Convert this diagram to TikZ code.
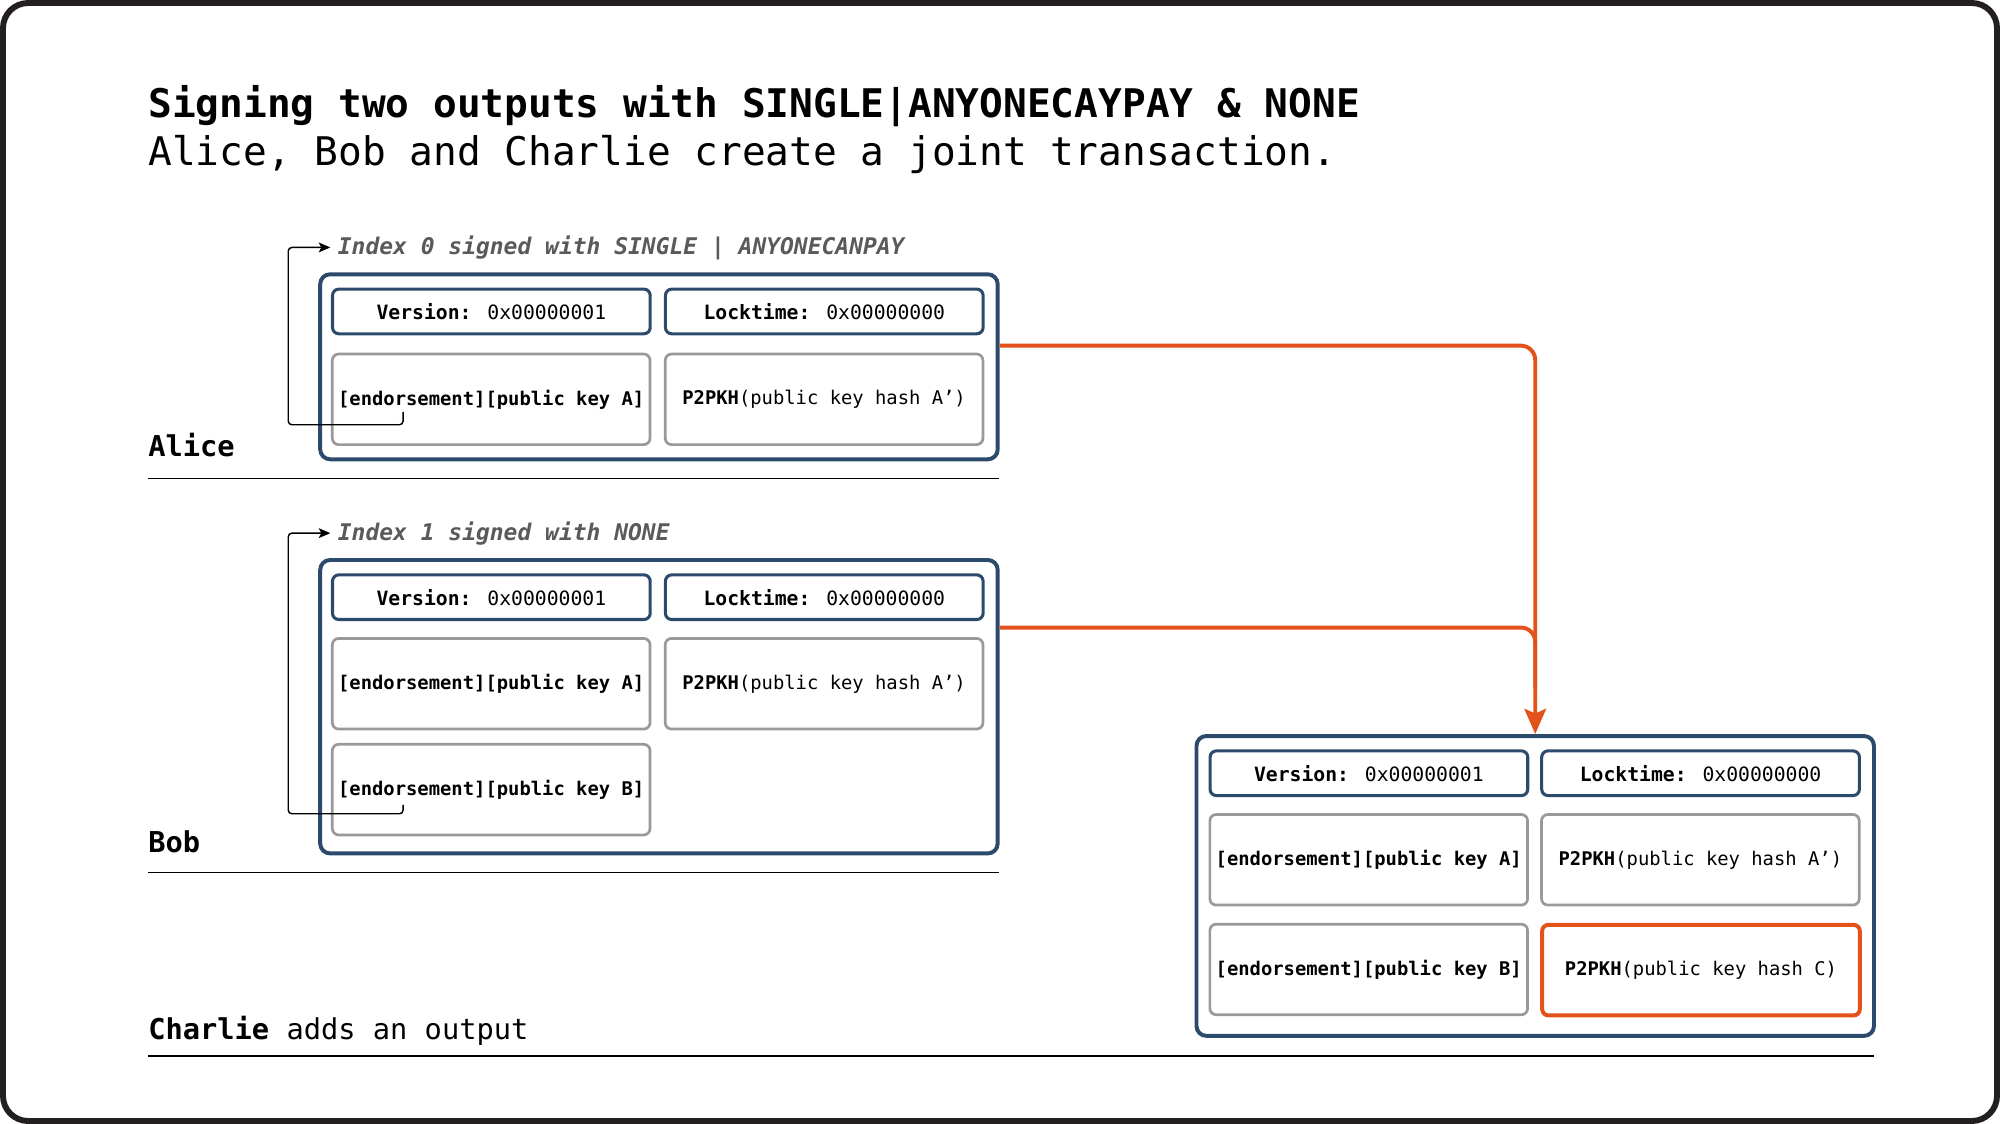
\documentclass[tikz,border=0pt]{standalone}
\usepackage{fontspec}
\setmainfont{DejaVu Sans Mono}
\usetikzlibrary{arrows.meta}
\definecolor{txblue}{HTML}{2C4A6C}
\definecolor{cellgray}{HTML}{999999}
\definecolor{payorange}{HTML}{E4521B}
\definecolor{notegray}{HTML}{5A5A5A}
\definecolor{framedark}{HTML}{231F20}

\begin{document}
\begin{tikzpicture}[>={Stealth[length=6.5pt,width=5.5pt,inset=1.5pt]}, x=0.025cm, y=-0.025cm,
    txbox/.style={draw=txblue, line width=2.2pt, rounded corners=5.5pt, anchor=north west,
      minimum width=13.275cm, inner sep=0pt},
    headcell/.style={draw=txblue, line width=1.7pt, rounded corners=3.5pt, anchor=north west,
      minimum width=6.225cm, minimum height=0.875cm, inner sep=0pt, font=\fontsize{11}{13}\selectfont},
    bodycell/.style={draw=cellgray, line width=1.5pt, rounded corners=3.5pt, anchor=north west,
      minimum width=6.225cm, minimum height=1.775cm, inner sep=0pt, font=\fontsize{10.5}{12}\selectfont},
    newcell/.style={bodycell, draw=payorange, line width=2.2pt},
    note/.style={anchor=west, inner sep=4pt, text=notegray, font=\fontsize{12.8}{15}\selectfont\bfseries\itshape},
    who/.style={anchor=base west, inner sep=0pt, font=\fontsize{16}{19}\selectfont},
    rule/.style={line width=0.9pt, black},
    hook/.style={line width=0.8pt, rounded corners=2pt},
    payline/.style={payorange, line width=2.2pt, rounded corners=8pt}]
    \useasboundingbox (0,0) rectangle (1568,881.2);
    \draw[framedark, line width=3.3pt, rounded corners=14pt] (2.35,2.35) rectangle (1565.65,878.85);

    % heading
    \node[anchor=base west, inner sep=0pt, font=\fontsize{22}{26}\selectfont\bfseries] (title) at (116,92)
      {Signing two outputs with SINGLE|ANYONECAYPAY \& NONE};
    \node[anchor=base west, inner sep=0pt, font=\fontsize{22}{26}\selectfont] (subtitle) at (116,130)
      {Alice, Bob and Charlie create a joint transaction.};

    % Alice
    \node[note] (aliceNote) at (259,194) {Index 0 signed with SINGLE | ANYONECANPAY};
    \node[txbox, minimum height=3.625cm] (aliceTx) at (249.5,213.5) {};
    \node[headcell] (aliceVer) at (259.5,225.5) {\textbf{Version:} 0x00000001};
    \node[headcell] (aliceLock) at (520.5,225.5) {\textbf{Locktime:} 0x00000000};
    \node[bodycell] (aliceIn) at (259.5,276.5) {\textbf{[endorsement][public key A]}};
    \node[bodycell] (aliceOut) at (520.5,276.5) {\textbf{P2PKH}(public key hash A’)};
    \coordinate (aliceSig) at (316,323);
    \draw[hook,->] (aliceSig) |- (226,333) |- (aliceNote.west);
    \node[who] (alice) at (116,358) {\bfseries Alice};
    \draw[rule] (116,375) -- (783,375);

    % Bob
    \node[note] (bobNote) at (259,418) {Index 1 signed with NONE};
    \node[txbox, minimum height=5.75cm] (bobTx) at (249.5,437.5) {};
    \node[headcell] (bobVer) at (259.5,449.5) {\textbf{Version:} 0x00000001};
    \node[headcell] (bobLock) at (520.5,449.5) {\textbf{Locktime:} 0x00000000};
    \node[bodycell] (bobInA) at (259.5,499.5) {\textbf{[endorsement][public key A]}};
    \node[bodycell] (bobOut) at (520.5,499.5) {\textbf{P2PKH}(public key hash A’)};
    \node[bodycell] (bobInB) at (259.5,582.5) {\textbf{[endorsement][public key B]}};
    \coordinate (bobSig) at (316,631);
    \draw[hook,->] (bobSig) |- (226,638) |- (bobNote.west);
    \node[who] (bob) at (116,668) {\bfseries Bob};
    \draw[rule] (116,684) -- (783,684);

    % Charlie
    \node[txbox, minimum height=5.875cm] (charlieTx) at (936.5,575.5) {};
    \node[headcell] (charlieVer) at (947.5,587.5) {\textbf{Version:} 0x00000001};
    \node[headcell] (charlieLock) at (1207.5,587.5) {\textbf{Locktime:} 0x00000000};
    \node[bodycell] (charlieInA) at (947.5,637.5) {\textbf{[endorsement][public key A]}};
    \node[bodycell] (charlieOutA) at (1207.5,637.5) {\textbf{P2PKH}(public key hash A’)};
    \node[bodycell] (charlieInB) at (947.5,723.5) {\textbf{[endorsement][public key B]}};
    \node[newcell] (charlieOutC) at (1207.5,723.5) {\textbf{P2PKH}(public key hash C)};
    \node[who] (charlie) at (116,815) {\textbf{Charlie} adds an output};
    \draw[rule] (116,828) -- (1469,828);

    % merge into Charlie's transaction
    \draw[payline,-{Stealth[length=14pt,width=12pt,inset=2.5pt]}] (aliceTx.east |- 0,271) -| (charlieTx.north);
    \draw[payline] (bobTx.east |- 0,492) -| (charlieTx.north |- 0,540);
  \end{tikzpicture}
\end{document}
